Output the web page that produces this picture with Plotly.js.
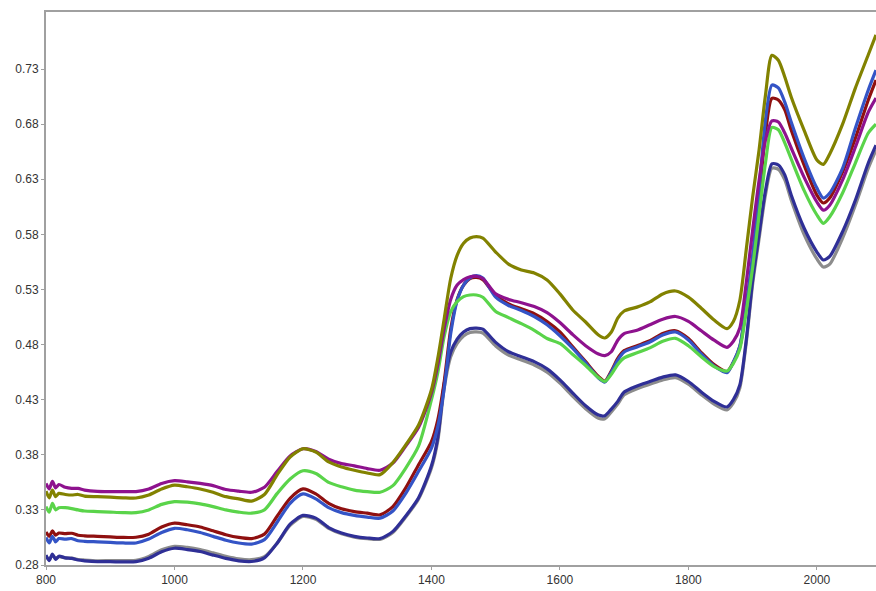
<!DOCTYPE html>
<html>
<head>
<meta charset="utf-8">
<script src="https://cdn.plot.ly/plotly-3.0.1.min.js"></script>
<style>
html,body{margin:0;padding:0;background:#fff;}
#chart{width:876px;height:591px;}
</style>
</head>
<body>
<div id="chart"></div>
<script>
const wavelengths = [800,805,810,815,820,830,840,850,860,880,900,920,940,960,980,1000,1020,1040,1060,1080,1100,1120,1140,1160,1180,1200,1220,1240,1260,1280,1300,1320,1340,1360,1380,1400,1410,1420,1430,1440,1450,1460,1470,1480,1500,1520,1540,1560,1580,1600,1620,1640,1660,1670,1680,1690,1700,1720,1740,1760,1780,1800,1820,1840,1860,1870,1880,1890,1900,1910,1920,1930,1940,1950,1960,1980,2000,2010,2020,2040,2060,2080,2092];

const olive = [0.347,0.341,0.348,0.342,0.345,0.344,0.3435,0.344,0.3425,0.342,0.3415,0.341,0.3408,0.3435,0.349,0.3525,0.351,0.349,0.346,0.342,0.340,0.338,0.344,0.362,0.378,0.3855,0.3825,0.3735,0.369,0.366,0.3635,0.362,0.373,0.389,0.407,0.439,0.468,0.504,0.540,0.561,0.572,0.5767,0.578,0.5767,0.564,0.553,0.5477,0.545,0.5386,0.526,0.5114,0.5005,0.4887,0.486,0.4914,0.504,0.5105,0.514,0.5187,0.526,0.5286,0.523,0.513,0.5023,0.4945,0.501,0.520,0.566,0.614,0.6566,0.7065,0.7425,0.738,0.7228,0.7047,0.6747,0.6475,0.6435,0.653,0.680,0.713,0.743,0.761];

const purple = [0.354,0.349,0.356,0.350,0.353,0.3505,0.3495,0.3495,0.348,0.3468,0.3466,0.3466,0.3466,0.349,0.354,0.3565,0.3555,0.354,0.352,0.3485,0.347,0.346,0.3505,0.365,0.379,0.3855,0.383,0.376,0.372,0.370,0.3675,0.366,0.3725,0.388,0.405,0.436,0.462,0.495,0.521,0.534,0.539,0.5415,0.542,0.540,0.526,0.521,0.518,0.5145,0.509,0.500,0.489,0.479,0.4715,0.470,0.4735,0.484,0.490,0.493,0.498,0.503,0.5055,0.501,0.4925,0.484,0.4775,0.483,0.495,0.536,0.584,0.629,0.6657,0.683,0.682,0.672,0.6584,0.632,0.6094,0.602,0.6065,0.6294,0.6593,0.691,0.7038];

const darkRed = [0.310,0.306,0.311,0.307,0.309,0.3085,0.3088,0.307,0.3065,0.306,0.3055,0.305,0.3052,0.308,0.3145,0.318,0.3165,0.3145,0.311,0.3075,0.305,0.304,0.308,0.3245,0.3405,0.349,0.3445,0.336,0.331,0.3285,0.327,0.3255,0.333,0.350,0.371,0.392,0.412,0.447,0.494,0.521,0.534,0.540,0.541,0.539,0.5245,0.517,0.5125,0.508,0.501,0.4915,0.478,0.4645,0.451,0.447,0.456,0.4675,0.4745,0.479,0.4835,0.490,0.4925,0.4855,0.4728,0.4618,0.4555,0.464,0.478,0.514,0.557,0.612,0.672,0.7035,0.702,0.693,0.6747,0.643,0.6157,0.6085,0.613,0.6367,0.6675,0.702,0.720];

const blue = [0.305,0.300,0.306,0.301,0.304,0.3035,0.304,0.302,0.3015,0.301,0.3005,0.300,0.300,0.3035,0.3095,0.3133,0.312,0.3095,0.306,0.3025,0.300,0.299,0.303,0.319,0.336,0.3445,0.340,0.332,0.3275,0.325,0.3235,0.3225,0.329,0.345,0.365,0.386,0.406,0.441,0.490,0.520,0.534,0.5405,0.5425,0.5405,0.523,0.5155,0.511,0.5055,0.498,0.488,0.4765,0.4635,0.4497,0.446,0.455,0.466,0.4733,0.4778,0.4824,0.4887,0.4914,0.4842,0.4715,0.4606,0.4545,0.4642,0.4787,0.516,0.5613,0.620,0.684,0.7155,0.713,0.700,0.682,0.6493,0.622,0.613,0.6175,0.640,0.6765,0.711,0.729];

const green = [0.333,0.328,0.336,0.330,0.332,0.332,0.3312,0.330,0.329,0.3285,0.328,0.3275,0.3275,0.330,0.335,0.3375,0.337,0.3355,0.333,0.330,0.328,0.327,0.330,0.345,0.358,0.3655,0.363,0.355,0.351,0.348,0.3466,0.346,0.352,0.368,0.388,0.430,0.455,0.488,0.510,0.519,0.5235,0.525,0.525,0.523,0.510,0.5045,0.499,0.493,0.4855,0.481,0.471,0.461,0.450,0.4465,0.453,0.462,0.468,0.4725,0.477,0.483,0.4857,0.479,0.469,0.460,0.456,0.463,0.476,0.510,0.550,0.598,0.645,0.677,0.675,0.663,0.6484,0.620,0.5976,0.590,0.596,0.6176,0.645,0.672,0.680];

const navy = [0.289,0.284,0.290,0.285,0.288,0.2865,0.286,0.2845,0.2838,0.283,0.283,0.2828,0.283,0.2862,0.292,0.2952,0.294,0.2922,0.289,0.286,0.2838,0.2832,0.2865,0.300,0.317,0.325,0.3225,0.314,0.309,0.306,0.3045,0.304,0.3105,0.3245,0.341,0.370,0.396,0.445,0.473,0.485,0.4915,0.4945,0.495,0.494,0.482,0.4735,0.469,0.4645,0.458,0.448,0.436,0.4245,0.416,0.4155,0.4215,0.4285,0.437,0.4425,0.4465,0.4505,0.4525,0.4465,0.437,0.4285,0.4234,0.430,0.4433,0.484,0.5386,0.580,0.620,0.644,0.643,0.634,0.6157,0.5858,0.564,0.5568,0.560,0.5825,0.6112,0.6448,0.661];

const gray = [0.288,0.285,0.289,0.286,0.2875,0.2865,0.2862,0.285,0.2845,0.2838,0.284,0.284,0.2842,0.2878,0.2938,0.297,0.296,0.294,0.291,0.2878,0.2855,0.2848,0.2875,0.300,0.316,0.324,0.3215,0.3132,0.3083,0.3053,0.3038,0.3033,0.3095,0.3235,0.340,0.368,0.393,0.441,0.469,0.481,0.4878,0.491,0.4915,0.4905,0.4788,0.4705,0.466,0.4615,0.455,0.445,0.433,0.4218,0.4132,0.4128,0.419,0.426,0.4345,0.440,0.444,0.448,0.450,0.444,0.4345,0.426,0.4207,0.427,0.4406,0.4815,0.535,0.576,0.616,0.640,0.639,0.6294,0.6112,0.580,0.5577,0.5504,0.553,0.5767,0.6067,0.640,0.6566];

const yTicks = [0.28,0.33,0.38,0.43,0.48,0.53,0.58,0.63,0.68,0.73];
const xTicks = [800,1000,1200,1400,1600,1800,2000];

const seriesList = [
  {name:'gray', y:gray, color:'#8c8c8c'},
  {name:'navy', y:navy, color:'#2f2f96'},
  {name:'darkRed', y:darkRed, color:'#8f1010'},
  {name:'blue', y:blue, color:'#3454c6'},
  {name:'green', y:green, color:'#5ad44a'},
  {name:'purple', y:purple, color:'#8e128e'},
  {name:'olive', y:olive, color:'#828200'}
];

const traces = seriesList.map(s => ({
  x: wavelengths,
  y: s.y,
  name: s.name,
  type: 'scatter',
  mode: 'lines',
  line: {color: s.color, width: 3.2, shape: 'spline', smoothing: 0.7},
  hoverinfo: 'skip'
}));

const layout = {
  width: 876,
  height: 591,
  margin: {l: 46, r: 0, t: 12, b: 26, pad: 0},
  paper_bgcolor: '#ffffff',
  plot_bgcolor: '#ffffff',
  showlegend: false,
  font: {family: 'Liberation Sans, Arial, sans-serif', size: 12, color: '#333333'},
  xaxis: {
    range: [800, 2092],
    tickvals: xTicks,
    ticktext: xTicks.map(String),
    showgrid: false,
    zeroline: false,
    showline: true,
    linecolor: '#a0a0a0',
    linewidth: 2,
    mirror: true,
    ticks: 'outside',
    ticklen: 3,
    tickcolor: '#a0a0a0',
    tickfont: {family: 'Liberation Sans, Arial, sans-serif', size: 12, color: '#333333'}
  },
  yaxis: {
    range: [0.28, 0.7818],
    tickvals: yTicks,
    ticktext: yTicks.map(v => v.toFixed(2)),
    showgrid: false,
    zeroline: false,
    showline: true,
    linecolor: '#a0a0a0',
    linewidth: 2,
    mirror: true,
    ticks: 'outside',
    ticklen: 3,
    tickcolor: '#a0a0a0',
    tickfont: {family: 'Liberation Sans, Arial, sans-serif', size: 12, color: '#333333'}
  }
};

Plotly.newPlot('chart', traces, layout, {staticPlot: true, displayModeBar: false});
</script>
</body>
</html>
